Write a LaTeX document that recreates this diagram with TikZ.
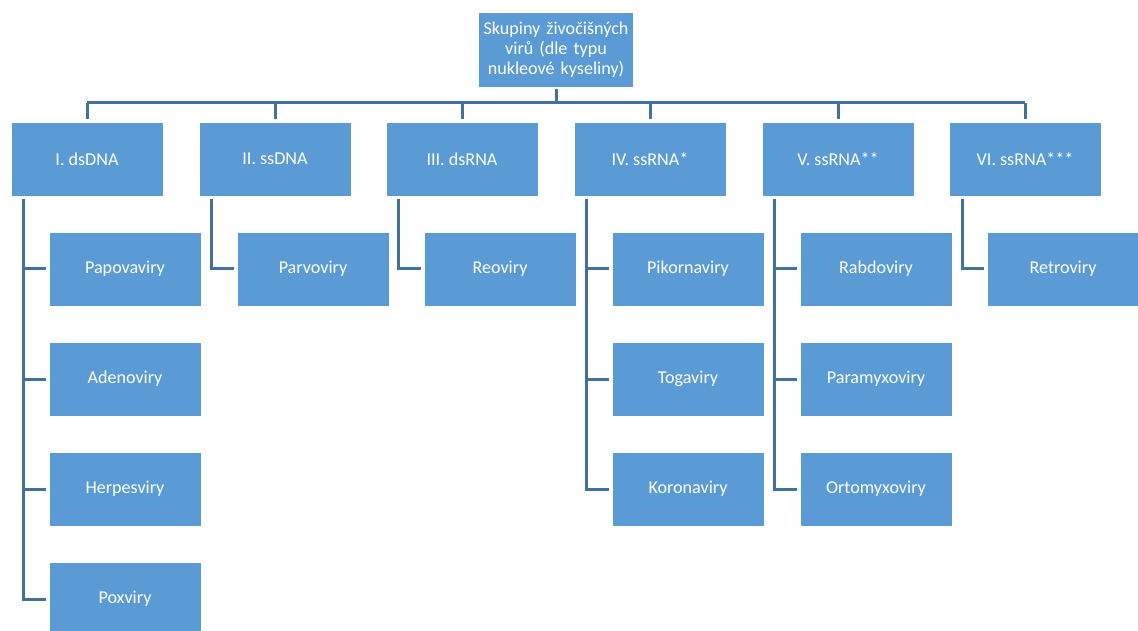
\documentclass[tikz,border=0pt]{standalone}
\usepackage{fontspec}
\setmainfont{Carlito}
\usetikzlibrary{positioning}

\definecolor{boxblue}{HTML}{5B9BD5}
\definecolor{lineblue}{HTML}{41719C}

\tikzset{
  vbox/.style={draw=white, line width=0.4pt, fill=boxblue, text=white,
    minimum width=3.04cm, minimum height=1.48cm, inner sep=2pt,
    font=\fontsize{10.3}{11.5}\selectfont, align=center},
  conn/.style={draw=lineblue, line width=0.06cm},
  gap/.style={shorten >=0.06cm, shorten <=0.06cm}
}

\begin{document}
\begin{tikzpicture}[x=0.02cm, y=-0.02cm]
\useasboundingbox (0,0) rectangle (1138,631);
\clip (0,0) rectangle (1138,631);

% koren
\node[vbox, minimum height=1.5cm, text width=2.95cm] (top) at (556,49.5) {Skupiny živočišných\\ virů (dle typu\\ nukleové kyseliny)};
\coordinate (bus) at (556,103);

% skupiny
\node[vbox] (g1) at (87,159) {I. dsDNA};
\node[vbox] (g2) at (275,159) {II. ssDNA};
\node[vbox] (g3) at (462,159) {III. dsRNA};
\node[vbox] (g4) at (650,159) {IV. ssRNA*};
\node[vbox] (g5) at (838,159) {V. ssRNA**};
\node[vbox] (g6) at (1025,159) {VI. ssRNA***};

% I. dsDNA
\node[vbox] (papova) at (125,269) {Papovaviry};
\node[vbox] (adeno) at (125,379) {Adenoviry};
\node[vbox] (herpes) at (125,489) {Herpesviry};
\node[vbox] (pox) at (125,599) {Poxviry};

% II. ssDNA
\node[vbox] (parvo) at (313,269) {Parvoviry};

% III. dsRNA
\node[vbox] (reo) at (500,269) {Reoviry};

% IV. ssRNA*
\node[vbox] (pikorna) at (688,269) {Pikornaviry};
\node[vbox] (toga) at (688,379) {Togaviry};
\node[vbox] (korona) at (688,489) {Koronaviry};

% V. ssRNA**
\node[vbox] (rabdo) at (876,269) {Rabdoviry};
\node[vbox] (paramyxo) at (876,379) {Paramyxoviry};
\node[vbox] (ortomyxo) at (876,489) {Ortomyxoviry};

% VI. ssRNA***
\node[vbox] (retro) at (1063,269) {Retroviry};

% spojnice shora
\draw[conn, shorten <=0.04cm] (top.south) -- (bus);
\draw[conn] (bus -| g1.north) -- (bus -| g6.north);
\draw[conn, shorten >=0.06cm] (bus -| g1.north) -- (g1.north);
\draw[conn, shorten >=0.06cm] (bus -| g2.north) -- (g2.north);
\draw[conn, shorten >=0.06cm] (bus -| g3.north) -- (g3.north);
\draw[conn, shorten >=0.06cm] (bus -| g4.north) -- (g4.north);
\draw[conn, shorten >=0.06cm] (bus -| g5.north) -- (g5.north);
\draw[conn, shorten >=0.06cm] (bus -| g6.north) -- (g6.north);

% spojnice k potomkum
\coordinate (t1) at ([xshift=0.26cm]g1.south west);
\coordinate (t2) at ([xshift=0.26cm]g2.south west);
\coordinate (t3) at ([xshift=0.26cm]g3.south west);
\coordinate (t4) at ([xshift=0.26cm]g4.south west);
\coordinate (t5) at ([xshift=0.26cm]g5.south west);
\coordinate (t6) at ([xshift=0.28cm]g6.south west);

\draw[conn, gap] (t1) |- (papova.west);
\draw[conn, gap] (t1) |- (adeno.west);
\draw[conn, gap] (t1) |- (herpes.west);
\draw[conn, gap] (t1) |- (pox.west);

\draw[conn, gap] (t2) |- (parvo.west);
\draw[conn, gap] (t3) |- (reo.west);

\draw[conn, gap] (t4) |- (pikorna.west);
\draw[conn, gap] (t4) |- (toga.west);
\draw[conn, gap] (t4) |- (korona.west);

\draw[conn, gap] (t5) |- (rabdo.west);
\draw[conn, gap] (t5) |- (paramyxo.west);
\draw[conn, gap] (t5) |- (ortomyxo.west);

\draw[conn, gap] (t6) |- (retro.west);

\end{tikzpicture}
\end{document}
